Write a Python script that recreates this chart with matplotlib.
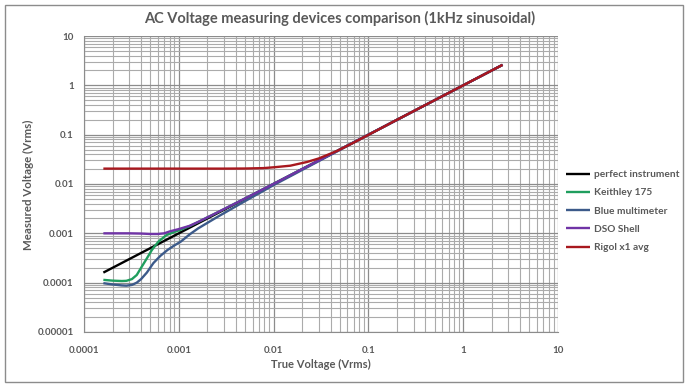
import matplotlib.pyplot as plt
from matplotlib.patches import Rectangle

# true voltage (x) and readings of each device
perfect_x = [0.00016, 0.001, 0.01, 0.1, 1, 2.6]
perfect_y = [0.00016, 0.001, 0.01, 0.1, 1, 2.6]

keithley_x = [0.00016, 0.0002, 0.00025, 0.00028, 0.00032, 0.00036, 0.0004, 0.00046, 0.00052,
              0.00061, 0.00074, 0.00088, 0.00103, 0.0013, 0.0016, 0.0025, 0.005, 0.01, 0.1, 1, 2.6]
keithley_y = [0.000114, 0.00011, 0.000108, 0.000109, 0.000118, 0.000143, 0.0002, 0.00031, 0.00046,
              0.00068, 0.00092, 0.00105, 0.00117, 0.0014, 0.0017, 0.0026, 0.0051, 0.0101, 0.1, 1, 2.6]

blue_x = [0.00016, 0.0002, 0.00025, 0.00028, 0.00032, 0.00036, 0.0004, 0.00046, 0.00054,
          0.00064, 0.00076, 0.0009, 0.00105, 0.0013, 0.0016, 0.0025, 0.005, 0.01, 0.05, 0.1, 1, 2.6]
blue_y = [0.0000977, 0.000092, 0.000088, 0.000087, 0.00009, 0.0001, 0.000118, 0.00016, 0.00025,
          0.00035, 0.00046, 0.00057, 0.00068, 0.00095, 0.00126, 0.0021, 0.0045, 0.0095, 0.049, 0.099, 1, 2.6]

dso_x = [0.00016, 0.0003, 0.0004, 0.0005, 0.0006, 0.0007, 0.00081, 0.001, 0.0013, 0.0016,
         0.0025, 0.005, 0.01, 0.1, 1, 2.6]
dso_y = [0.001, 0.001, 0.00099, 0.00097, 0.00097, 0.001, 0.0011, 0.00122, 0.00142, 0.0017,
         0.0026, 0.0051, 0.0101, 0.1, 1, 2.6]

rigol_x = [0.00016, 0.001, 0.003, 0.005, 0.0078, 0.01, 0.015, 0.0226, 0.03, 0.047, 0.07, 0.1, 0.2, 1, 2.6]
rigol_y = [0.0205, 0.0205, 0.0205, 0.0206, 0.021, 0.0218, 0.0235, 0.028, 0.033, 0.047, 0.069, 0.099, 0.2, 1, 2.6]

series = [
    ("perfect instrument", perfect_x, perfect_y, "#000000"),
    ("Keithley 175", keithley_x, keithley_y, "#1F9E5E"),
    ("Blue multimeter", blue_x, blue_y, "#3C5A8A"),
    ("DSO Shell", dso_x, dso_y, "#7034A6"),
    ("Rigol x1 avg", rigol_x, rigol_y, "#A8181E"),
]

plt.rcParams['font.family'] = ['Lato', 'DejaVu Sans']
txt = "#595959"

fig = plt.figure(figsize=(6.87, 3.86), dpi=100)
fig.patch.set_facecolor("white")
fig.patches.append(Rectangle((5 / 687, 1 - 382 / 386), 678 / 687, 377 / 386,
                             transform=fig.transFigure, fill=False,
                             edgecolor="#8C8C8C", linewidth=1.0))

ax = fig.add_axes([84 / 687, 1 - 332 / 386, 474 / 687, 296 / 386])
for name, xs, ys, col in series:
    ax.plot(xs, ys, color=col, linewidth=1.7, label=name, solid_capstyle="butt")

ax.set_xscale("log")
ax.set_yscale("log")
ax.set_xlim(1e-4, 10)
ax.set_ylim(1e-5, 10)
ax.set_xticks([1e-4, 1e-3, 1e-2, 1e-1, 1, 10])
ax.set_xticklabels(["0.0001", "0.001", "0.01", "0.1", "1", "10"])
ax.set_yticks([1e-5, 1e-4, 1e-3, 1e-2, 1e-1, 1, 10])
ax.set_yticklabels(["0.00001", "0.0001", "0.001", "0.01", "0.1", "1", "10"])
ax.grid(True, which="major", color="#8C8C8C", linewidth=0.9)
ax.grid(True, which="minor", color="#ABABAB", linewidth=0.8)
ax.set_axisbelow(True)
ax.tick_params(which="both", length=0, colors=txt, labelsize=7)
ax.tick_params(axis="x", pad=10)
ax.tick_params(axis="y", pad=7.3)
for lab in ax.get_xticklabels() + ax.get_yticklabels():
    lab.set_fontweight("bold")
for s in ax.spines.values():
    s.set_visible(False)
ax.spines["left"].set_visible(True)
ax.spines["left"].set_color("#8C8C8C")
ax.spines["bottom"].set_visible(True)
ax.spines["bottom"].set_color("#8C8C8C")

ax.set_xlabel("True Voltage (Vrms)", color=txt, fontsize=8, fontweight="bold", labelpad=3)
ax.set_ylabel("Measured Voltage (Vrms)", color=txt, fontsize=8.3, fontweight="bold")
ax.yaxis.set_label_coords(-0.1065, 0.497)
fig.text(0.495, 0.951, "AC Voltage measuring devices comparison (1kHz sinusoidal)",
         ha="center", va="center", color=txt, fontsize=10.5, fontweight="bold")

leg = ax.legend(loc="upper left", bbox_to_anchor=(557 / 687, 1 - 161 / 386),
                bbox_transform=fig.transFigure, frameon=False, fontsize=7.3,
                handlelength=2.4, handletextpad=0.3, labelspacing=0.9)
for t in leg.get_texts():
    t.set_color(txt)
    t.set_fontweight("bold")

fig.savefig("out.png", dpi=100)
